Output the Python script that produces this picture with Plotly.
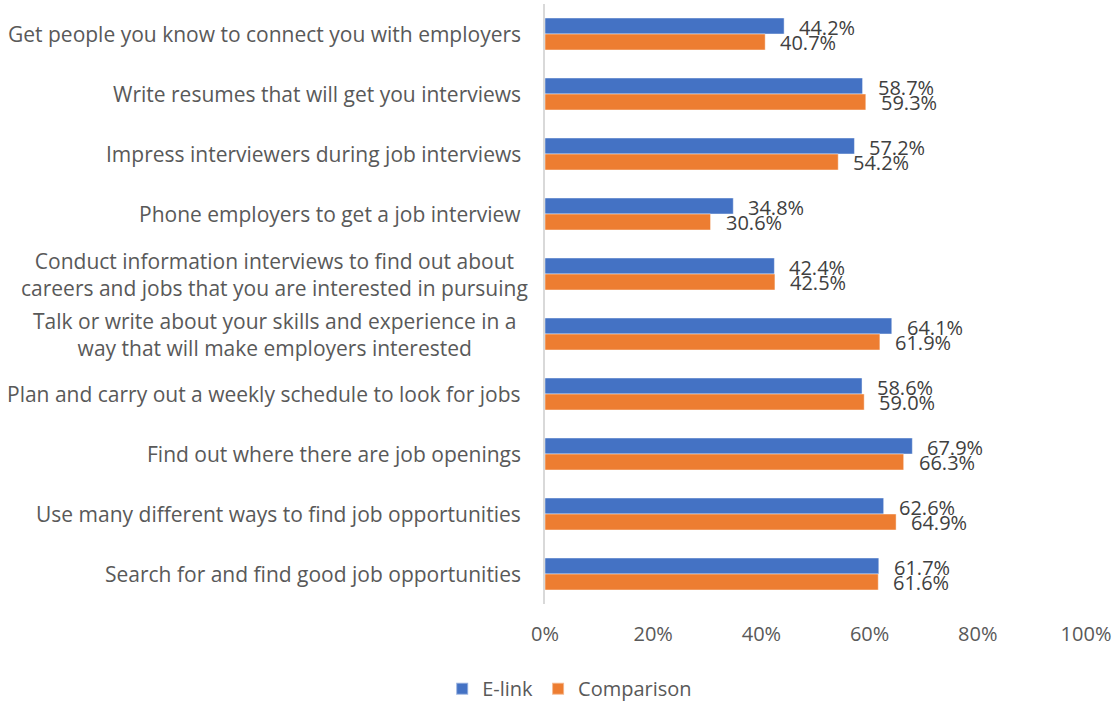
import plotly.graph_objects as go

# Survey items, listed top to bottom
categories = [
    "Get people you know to connect you with employers",
    "Write resumes that will get you interviews",
    "Impress interviewers during job interviews",
    "Phone employers to get a job interview",
    "Conduct information interviews to find out about<br>careers and jobs that you are interested in pursuing",
    "Talk or write about your skills and experience in a<br>way that will make employers interested",
    "Plan and carry out a weekly schedule to look for jobs",
    "Find out where there are job openings",
    "Use many different ways to find job opportunities",
    "Search for and find good job opportunities",
]

# Percent of respondents in each group
elink = [44.2, 58.7, 57.2, 34.8, 42.4, 64.1, 58.6, 67.9, 62.6, 61.7]
comparison = [40.7, 59.3, 54.2, 30.6, 42.5, 61.9, 59.0, 66.3, 64.9, 61.6]

x_ticks = [0, 20, 40, 60, 80, 100]
x_tick_labels = [f"{t}%" for t in x_ticks]

BLUE = "#4472C4"
ORANGE = "#ED7D31"
LABEL_GREY = "#595959"
VALUE_GREY = "#404040"
FONT = "Open Sans"

fig = go.Figure()
fig.add_trace(go.Bar(
    name="E-link", y=categories, x=elink, orientation="h",
    marker=dict(color=BLUE, line=dict(color="rgba(255,255,255,0.45)", width=1)),
))
fig.add_trace(go.Bar(
    name="Comparison", y=categories, x=comparison, orientation="h",
    marker=dict(color=ORANGE, line=dict(color="rgba(255,255,255,0.45)", width=1)),
))

annotations = []
# Value labels just past the end of each bar
for series, shift in ((elink, 7), (comparison, -8)):
    for cat, v in zip(categories, series):
        annotations.append(dict(
            x=v, y=cat, xref="x", yref="y", text=f"{v:.1f}%",
            showarrow=False, xanchor="left", yanchor="middle",
            xshift=13, yshift=shift,
            font=dict(family=FONT, size=20, color=VALUE_GREY),
        ))

# Category labels: single lines right-aligned, wrapped ones centred
for cat in categories:
    if "<br>" in cat:
        anchor, xshift = "center", -271
    else:
        anchor, xshift = "right", -22
    annotations.append(dict(
        x=0, y=cat, xref="x", yref="y", text=cat,
        showarrow=False, xanchor=anchor, yanchor="middle", align="center",
        xshift=xshift,
        font=dict(family=FONT, size=21, color=LABEL_GREY),
    ))

fig.update_layout(
    width=1117, height=702,
    margin=dict(l=545, r=31, t=4, b=98),
    paper_bgcolor="white", plot_bgcolor="white",
    barmode="group", bargap=0.467, bargroupgap=0,
    font=dict(family=FONT, size=20, color=LABEL_GREY),
    xaxis=dict(
        range=[0, 100], tickvals=x_ticks, ticktext=x_tick_labels,
        showgrid=False, zeroline=False, showline=False,
        tickfont=dict(family=FONT, size=20, color=LABEL_GREY),
        ticklabelstandoff=16,
    ),
    yaxis=dict(
        autorange="reversed", showticklabels=False, showgrid=False,
        zeroline=False, showline=True, linecolor="#D9D9D9", linewidth=2,
        ticks="",
    ),
    legend=dict(
        orientation="h", xref="container", yref="container",
        x=0.51, y=0.019, xanchor="center", yanchor="middle",
        font=dict(family=FONT, size=20, color=LABEL_GREY),
        itemsizing="constant",
    ),
    annotations=annotations,
    showlegend=True,
)

fig.write_html("out.html")
